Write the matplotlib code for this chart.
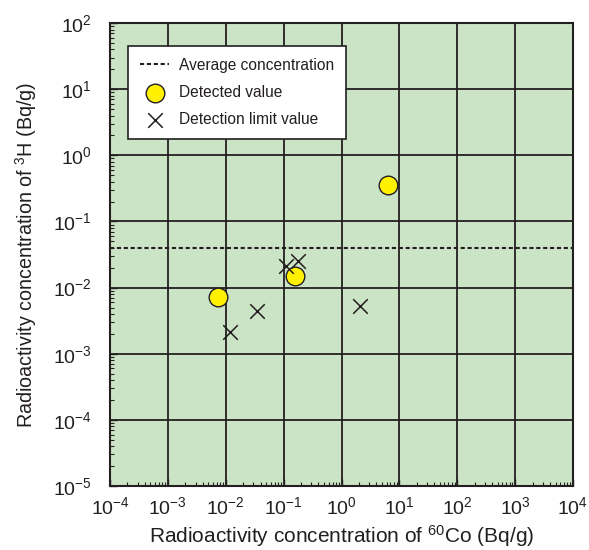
import matplotlib
matplotlib.use("Agg")
import matplotlib.pyplot as plt
from matplotlib.ticker import LogLocator, NullFormatter

plt.rcParams['font.family'] = ['Liberation Sans', 'DejaVu Sans']
plt.rcParams['mathtext.fontset'] = 'custom'
plt.rcParams['mathtext.rm'] = 'Liberation Sans'
plt.rcParams['mathtext.it'] = 'Liberation Sans'

# Data
detected_co60 = [6.3, 0.16, 0.0073]
detected_h3 = [0.36, 0.0152, 0.0072]
limit_co60 = [0.11, 0.18, 0.034, 0.0118, 2.1]
limit_h3 = [0.0213, 0.025, 0.0044, 0.0021, 0.0052]
average_h3 = 0.040

dark = '#231f20'
fig = plt.figure(figsize=(5.89, 5.50), dpi=100)
ax = fig.add_axes([0.1868, 0.1164, 0.786, 0.8416])
ax.set_facecolor('#cce4c6')
ax.set_xscale('log')
ax.set_yscale('log')
ax.set_xlim(1e-4, 1e4)
ax.set_ylim(1e-5, 1e2)

ax.xaxis.set_major_locator(LogLocator(base=10, numticks=20))
ax.yaxis.set_major_locator(LogLocator(base=10, numticks=20))
ax.xaxis.set_minor_locator(LogLocator(base=10, subs=range(2, 10), numticks=20))
ax.yaxis.set_minor_locator(LogLocator(base=10, subs=range(2, 10), numticks=20))
ax.xaxis.set_minor_formatter(NullFormatter())
ax.yaxis.set_minor_formatter(NullFormatter())

ax.grid(True, which='major', color=dark, lw=1.3)
ax.set_axisbelow(True)
ax.tick_params(which='both', direction='in', top=False, right=False, color=dark)
ax.tick_params(which='major', length=5, width=1.0, labelsize=14, labelcolor=dark)
ax.tick_params(axis='x', which='major', pad=7)
ax.tick_params(axis='y', which='major', pad=13)
ax.tick_params(which='minor', length=3, width=0.8)
for s in ax.spines.values():
    s.set_color(dark)
    s.set_linewidth(1.5)

ax.axhline(average_h3, color=dark, lw=1.5, ls=(0, (2.0, 1.3)), label='Average concentration', zorder=3)
ax.scatter(detected_co60, detected_h3, s=180, c='#fff100', edgecolors=dark, linewidths=1.0,
           label='Detected value', zorder=4)
ax.scatter(limit_co60, limit_h3, s=110, marker='x', c=dark, linewidths=1.1,
           label='Detection limit value', zorder=5)

leg = ax.legend(loc='upper left', bbox_to_anchor=(0.039, 0.950), borderaxespad=0,
                fontsize=11.2, frameon=True, fancybox=False, edgecolor=dark,
                framealpha=1, handlelength=1.9, labelspacing=0.78, borderpad=0.75,
                handletextpad=0.6, scatterpoints=1)
leg.get_frame().set_linewidth(1.2)
for t in leg.get_texts():
    t.set_color(dark)

ax.set_xlabel(r'Radioactivity concentration of $^{60}$Co (Bq/g)', fontsize=15, color=dark, labelpad=4)
ax.set_ylabel(r'Radioactivity concentration of $^{3}$H (Bq/g)', fontsize=14.2, color=dark, labelpad=10)

fig.savefig('out.png', dpi=100)
